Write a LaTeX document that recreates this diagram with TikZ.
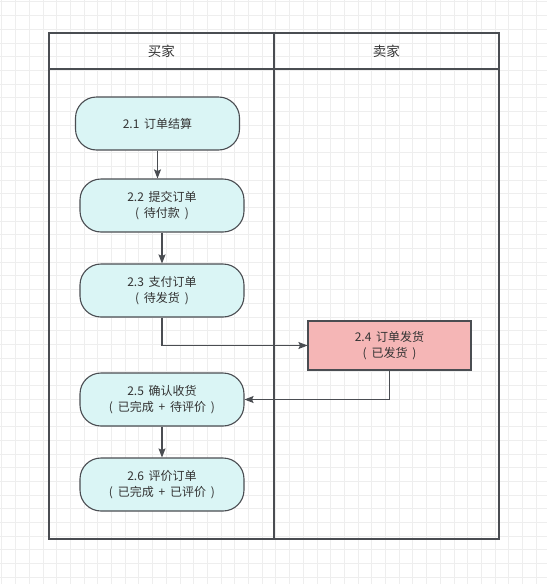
\documentclass[tikz,border=0pt]{standalone}
\usepackage{fontspec}
\setmainfont{Noto Sans CJK SC}[WordSpace=1.8]
\usetikzlibrary{arrows.meta}

\definecolor{gridc}{HTML}{EEEEEE}
\definecolor{linec}{HTML}{4A4D52}
\definecolor{stepfill}{HTML}{DAF5F5}
\definecolor{shipfill}{HTML}{F5B6B6}
\definecolor{txt}{HTML}{333333}

\tikzset{
  lane/.style={draw=linec,line width=1.8pt,minimum width=225pt,minimum height=506pt,anchor=north west},
  lanehead/.style={draw=linec,line width=1.8pt,minimum width=225pt,minimum height=36pt,anchor=north west,
    font=\fontsize{13.5}{16}\selectfont,text=txt},
  stepbox/.style={draw=linec,line width=1.1pt,fill=stepfill,rounded corners=21pt,minimum width=164pt,
    minimum height=53pt,align=center,font=\fontsize{12}{16}\selectfont,text=txt},
  shipbox/.style={draw=linec,line width=1.1pt,fill=shipfill,minimum width=163pt,
    minimum height=49pt,align=center,font=\fontsize{12}{16}\selectfont,text=txt},
  flow/.style={draw=linec,line width=1.1pt,-{Stealth[length=9pt,width=7pt,inset=1.5pt]}}
}

\begin{document}
\begin{tikzpicture}[x=1pt,y=-1pt]
  \useasboundingbox (0,0) rectangle (547,584);
  \fill[white] (0,0) rectangle (547,584);
  % background grid
  \foreach \k in {0,...,42} {
    \draw[gridc,line width=0.6pt] (1.7+13.7*\k,0) -- (1.7+13.7*\k,584);
    \draw[gridc,line width=0.6pt] (0,1.7+13.7*\k) -- (547,1.7+13.7*\k);
  }

  % swimlanes
  \node[lane] (buyer) at (48,32) {};
  \node[lane] (seller) at (273,32) {};
  \node[lanehead] (buyerhead) at (48,32) {买家};
  \node[lanehead] (sellerhead) at (273,32) {卖家};

  % steps
  \node[stepbox] (n21) at (157.5,123.5) {2.1 订单结算};
  \node[stepbox] (n22) at (162,205.5) {2.2 提交订单\\( 待付款 )};
  \node[stepbox] (n23) at (162,290.5) {2.3 支付订单\\( 待发货 )};
  \node[shipbox] (n24) at (389.5,345.5) {2.4 订单发货\\( 已发货 )};
  \node[stepbox] (n25) at (162,399.5) {2.5 确认收货\\( 已完成 + 待评价 )};
  \node[stepbox] (n26) at (162,484.5) {2.6 评价订单\\( 已完成 + 已评价 )};

  \draw[flow] (n21.south) -- (n21.south |- n22.north);
  \draw[flow] (n22) -- (n23);
  \draw[flow] (n23.south) |- (n24.west);
  \draw[flow] (n24.south) |- (n25.east);
  \draw[flow] (n25) -- (n26);
\end{tikzpicture}
\end{document}
